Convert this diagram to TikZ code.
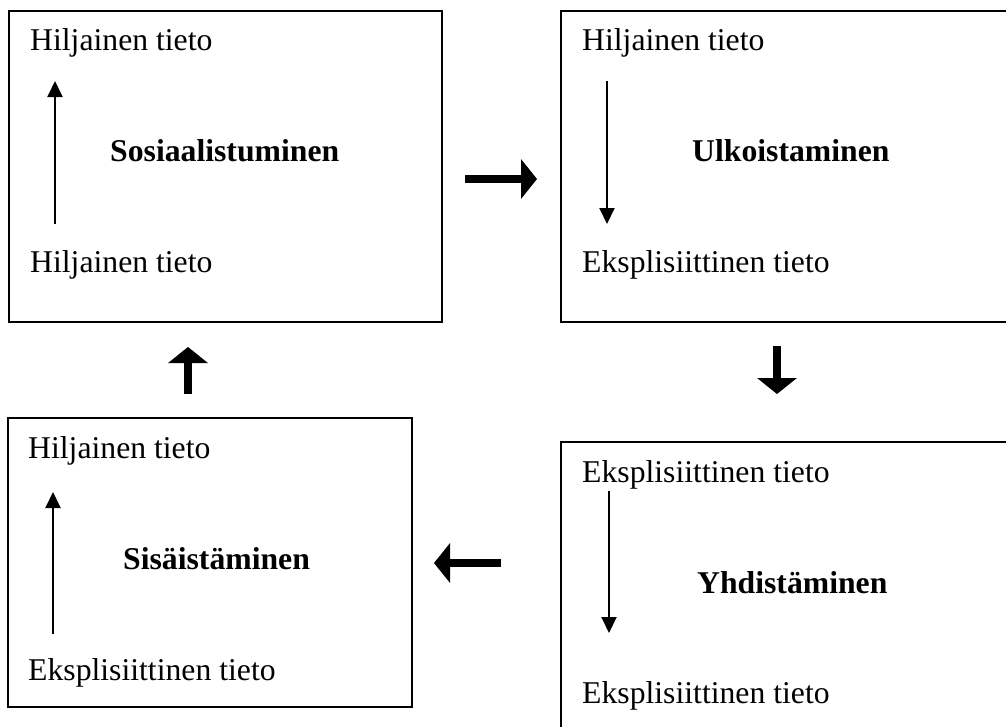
\documentclass[tikz,border=0pt]{standalone}
\usepackage{fontspec}
\setmainfont{Liberation Serif}
\usetikzlibrary{arrows.meta}
\begin{document}
\begin{tikzpicture}[x=1pt,y=-1pt,
  boxframe/.style={draw,line width=1.6pt},
  txt/.style={anchor=base west,inner sep=0pt,font=\fontsize{31.7}{36}\selectfont},
  ttl/.style={txt,font=\fontsize{31.7}{36}\selectfont\bfseries},
  thinarrow/.style={line width=2pt,-{Triangle[width=15pt,length=16pt]}},
  thickarrow/.style={line width=8pt,-{Triangle[width=39pt,length=16pt]}}]
\clip (0,0) rectangle (1006,726);
\fill[white] (0,0) rectangle (1006,726);
% boxes
\draw[boxframe] (9,11) rectangle (442,322);
\draw[boxframe] (561,11) rectangle (1015,322);
\draw[boxframe] (8,418) rectangle (412,707);
\draw[boxframe] (561,442) rectangle (1015,745);
% box 1
\node[txt] (b1top) at (30,50) {Hiljainen tieto};
\node[txt] (b1bot) at (30,272) {Hiljainen tieto};
\node[ttl] (b1ttl) at (110,161) {Sosiaalistuminen};
\coordinate (a1s) at (55,224); \coordinate (a1e) at (55,81);
\draw[thinarrow] (a1s) -- (a1e);
% box 2
\node[txt] (b2top) at (582,50) {Hiljainen tieto};
\node[txt] (b2bot) at (582,272) {Eksplisiittinen tieto};
\node[ttl] (b2ttl) at (692,161) {Ulkoistaminen};
\coordinate (a2s) at (607,81); \coordinate (a2e) at (607,224);
\draw[thinarrow] (a2s) -- (a2e);
% box 3
\node[txt] (b3top) at (28,458) {Hiljainen tieto};
\node[txt] (b3bot) at (28,680) {Eksplisiittinen tieto};
\node[ttl] (b3ttl) at (123,569) {Sisäistäminen};
\coordinate (a3s) at (53,634); \coordinate (a3e) at (53,492);
\draw[thinarrow] (a3s) -- (a3e);
% box 4
\node[txt] (b4top) at (582,482) {Eksplisiittinen tieto};
\node[txt] (b4bot) at (582,703) {Eksplisiittinen tieto};
\node[ttl] (b4ttl) at (697,593) {Yhdistäminen};
\coordinate (a4s) at (609,491); \coordinate (a4e) at (609,633);
\draw[thinarrow] (a4s) -- (a4e);
% thick arrows between boxes
\coordinate (r1) at (465,179); \coordinate (r2) at (537,179);
\draw[thickarrow] (r1) -- (r2);
\coordinate (d1) at (777,346); \coordinate (d2) at (777,394);
\draw[thickarrow] (d1) -- (d2);
\coordinate (l1) at (501,563); \coordinate (l2) at (434,563);
\draw[thickarrow] (l1) -- (l2);
\coordinate (u1) at (188,394); \coordinate (u2) at (188,347);
\draw[thickarrow] (u1) -- (u2);
\end{tikzpicture}
\end{document}
